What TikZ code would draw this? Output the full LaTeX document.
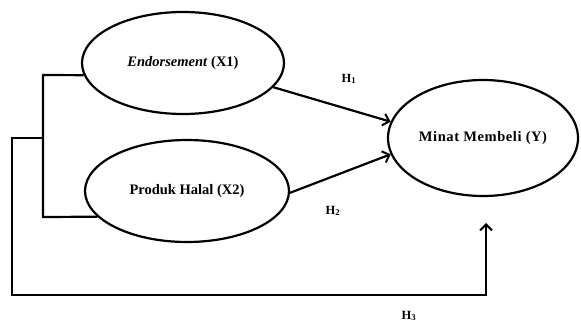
\documentclass[tikz,border=0pt]{standalone}
\usepackage{fontspec}
\setmainfont{Liberation Serif}
\usetikzlibrary{arrows.meta,shapes.geometric}
\begin{document}
\begin{tikzpicture}[x=1pt,y=-1pt,
  var/.style={draw,line width=2.2pt,ellipse,inner sep=0pt,font=\fontsize{14.5}{16}\selectfont\bfseries},
  conn/.style={line width=2.2pt},
  arr/.style={conn,-{Straight Barb[length=6pt,width=12pt,line width=2pt]}},
  hlab/.style={font=\fontsize{12.5}{14}\selectfont\bfseries}]
\useasboundingbox (0,0) rectangle (581,324);
\node[var,minimum width=202pt,minimum height=102pt] (x1) at (183,63) {\textit{Endorsement} (X1)};
\node[var,minimum width=204pt,minimum height=102pt] (x2) at (187,191) {Produk Halal (X2)};
\node[var,minimum width=190pt,minimum height=116pt] (y) at (483,138) {\addfontfeature{LetterSpace=4}Minat Membeli (Y)};
\coordinate (brk) at (43,138);
\coordinate (yc) at (486,223);
\draw[conn] (x1.187) -- (43,75) -- (43,217) -- (x2.196.5);
\draw[arr] (brk) -- (12,138) -- (12,295) -- (486,295) -- (yc);
\draw[arr] (x1.345) -- (y.170);
\draw[arr] (x2.359) -- (y.190);
\node[hlab] (h1) at (349,79) {H\textsubscript{1}};
\node[hlab] (h2) at (333,211) {H\textsubscript{2}};
\node[hlab] (h3) at (409,316) {H\textsubscript{3}};
\end{tikzpicture}
\end{document}
